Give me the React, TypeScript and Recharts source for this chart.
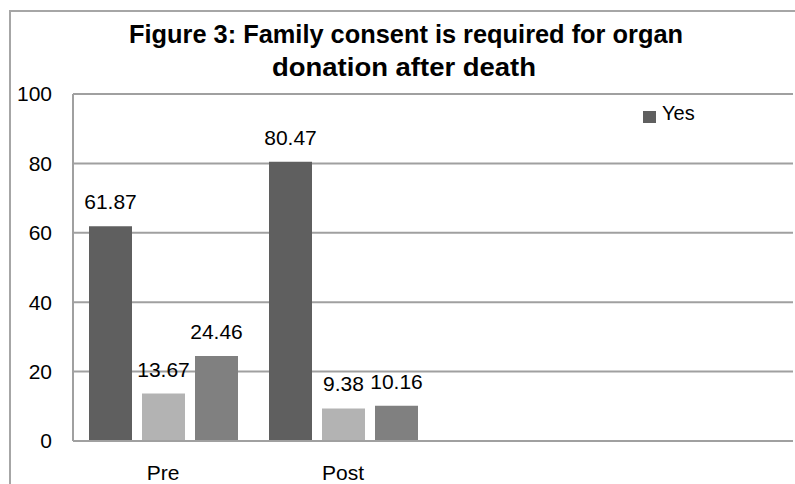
import React from 'react';
import { BarChart, Bar, XAxis, YAxis, CartesianGrid, LabelList } from 'recharts';

const categories = ['Pre', 'Post', '', ''];
const yesValues = [61.87, 80.47, null, null];
const noValues = [13.67, 9.38, null, null];
const dontKnowValues = [24.46, 10.16, null, null];
const yTicks = [0, 20, 40, 60, 80, 100];

const titleLines = ['Figure 3: Family consent is required for organ', 'donation after death'];

const data = categories.map((name, i) => ({
  name,
  yes: yesValues[i],
  no: noValues[i],
  dontKnow: dontKnowValues[i],
}));

const FONT = '"Liberation Sans", Arial, sans-serif';
const GRID = '#a0a0a0';

const fmt = (v: any) => (v === null || v === undefined ? '' : v.toFixed(2));

const XTick = ({ x, y, payload }: any) => (
  <text x={x} y={y + 39} textAnchor="middle" fontSize={21} fontFamily={FONT} fill="#000">
    {payload.value}
  </text>
);

export default function App() {
  return (
    <div style={{ position: 'absolute', left: 0, top: 0, width: 795, height: 484, overflow: 'hidden', background: '#fff' }}>
      <div
        style={{
          position: 'absolute',
          left: 9,
          top: 10,
          width: 820,
          height: 520,
          borderLeft: '2px solid #a6a6a6',
          borderTop: '2px solid #a6a6a6',
        }}
      />
      <svg width={795} height={90} style={{ position: 'absolute', left: 0, top: 0 }}>
        <text x={406} y={43} textAnchor="middle" fontSize={26} fontWeight="bold" fontFamily={FONT} textLength={554} lengthAdjust="spacingAndGlyphs">
          {titleLines[0]}
        </text>
        <text x={404} y={76} textAnchor="middle" fontSize={26} fontWeight="bold" fontFamily={FONT} textLength={264} lengthAdjust="spacingAndGlyphs">
          {titleLines[1]}
        </text>
      </svg>
      <div style={{ position: 'absolute', left: 0, top: 0 }}>
        <BarChart
          width={795}
          height={484}
          data={data}
          margin={{ top: 94, right: 2, left: 0, bottom: 0 }}
          barGap={10}
          barSize={43}
        >
          <CartesianGrid vertical={false} stroke={GRID} strokeWidth={2} />
          <XAxis
            dataKey="name"
            height={43}
            tickLine={false}
            tickSize={0}
            tickMargin={0}
            axisLine={{ stroke: GRID, strokeWidth: 2 }}
            tick={<XTick />}
            interval={0}
          />
          <YAxis
            width={73}
            domain={[0, 100]}
            ticks={yTicks}
            tickLine={false}
            tickSize={0}
            tickMargin={21}
            axisLine={{ stroke: GRID, strokeWidth: 2 }}
            tick={{ fontSize: 21, fontFamily: FONT, fill: '#000' }}
          />
          <Bar dataKey="yes" name="Yes" fill="#5f5f5f" isAnimationActive={false}>
            <LabelList dataKey="yes" position="top" offset={17} formatter={fmt} fontSize={21} fontFamily={FONT} fill="#000" />
          </Bar>
          <Bar dataKey="no" name="No" fill="#b3b3b3" isAnimationActive={false}>
            <LabelList dataKey="no" position="top" offset={17} formatter={fmt} fontSize={21} fontFamily={FONT} fill="#000" />
          </Bar>
          <Bar dataKey="dontKnow" name="Don't know" fill="#808080" isAnimationActive={false}>
            <LabelList dataKey="dontKnow" position="top" offset={17} formatter={fmt} fontSize={21} fontFamily={FONT} fill="#000" />
          </Bar>
        </BarChart>
      </div>
      <div
        style={{
          position: 'absolute',
          left: 643,
          top: 102,
          display: 'flex',
          alignItems: 'flex-start',
          fontFamily: FONT,
          fontSize: 20,
          color: '#000',
        }}
      >
        <span style={{ display: 'inline-block', width: 13, height: 12, background: '#5f5f5f', marginTop: 9, marginRight: 6 }} />
        <span style={{ lineHeight: '22px' }}>Yes</span>
      </div>
    </div>
  );
}
